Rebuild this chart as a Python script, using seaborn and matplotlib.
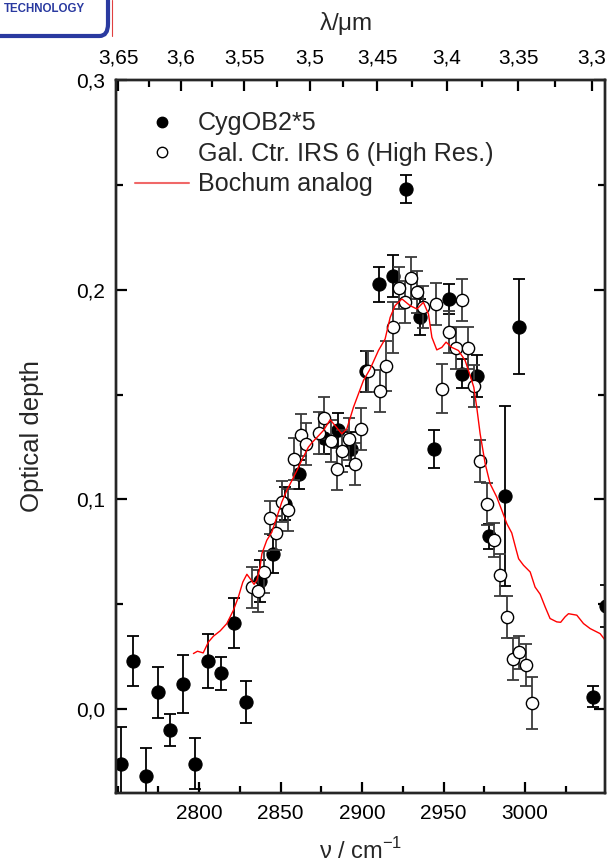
import numpy as np
import pandas as pd
import seaborn as sns
import matplotlib
matplotlib.use("Agg")
import matplotlib.pyplot as plt
from matplotlib.lines import Line2D
from matplotlib.patches import FancyBboxPatch
from matplotlib.ticker import FixedLocator, MultipleLocator, FuncFormatter

# ---------------- data ----------------
cyg_nu = [2752, 2759.7, 2767.3, 2775, 2782.4, 2790.2, 2797.7, 2805.5, 2813.5, 2821.3,
          2829, 2837.2, 2845.2, 2852.8, 2861.2, 2876.7, 2885.5, 2893.3, 2902.2, 2910.4,
          2918.8, 2927, 2935.6, 2943.8, 2953, 2961.3, 2970.2, 2978, 2987.7, 2996.3,
          3041.5, 3049.5]
cyg_tau = [-0.026, 0.023, -0.032, 0.008, -0.010, 0.012, -0.026, 0.023, 0.017, 0.041,
           0.0035, 0.061, 0.074, 0.098, 0.112, 0.1295, 0.133, 0.124, 0.161, 0.2025,
           0.2065, 0.248, 0.187, 0.124, 0.1956, 0.160, 0.1587, 0.0824, 0.1016, 0.1824,
           0.0059, 0.049]
cyg_err = [0.0175, 0.012, 0.0135, 0.012, 0.0078, 0.014, 0.012, 0.013, 0.008, 0.012,
           0.010, 0.010, 0.009, 0.008, 0.007, 0.008, 0.008, 0.008, 0.010, 0.0085,
           0.010, 0.0065, 0.0086, 0.009, 0.0071, 0.007, 0.010, 0.006, 0.043, 0.0225,
           0.005, 0.010]

gc_nu = [2832.3, 2836, 2839.9, 2843.6, 2847, 2850.7, 2854.4, 2858.3, 2862.2, 2865.5,
         2873.8, 2876.9, 2881, 2884.5, 2887.9, 2892, 2895.7, 2899.6, 2903.9, 2911,
         2914.7, 2918.8, 2922.5, 2926.4, 2929.9, 2933.9, 2937.6, 2945.4, 2949.3, 2953.4,
         2957.5, 2961, 2964.8, 2968.7, 2972.4, 2976.5, 2980.6, 2984.7, 2988.8, 2992.5,
         2996.3, 3000.6, 3004.5]
gc_tau = [0.058, 0.0562, 0.0654, 0.0913, 0.084, 0.099, 0.0948, 0.1194, 0.1308, 0.1262,
          0.1317, 0.139, 0.128, 0.1146, 0.123, 0.129, 0.117, 0.1335, 0.161, 0.1518,
          0.1635, 0.182, 0.2008, 0.194, 0.2056, 0.1987, 0.1916, 0.1932, 0.1527, 0.1797,
          0.1722, 0.195, 0.1722, 0.1543, 0.1182, 0.0976, 0.0807, 0.0638, 0.044, 0.0237,
          0.0271, 0.0211, 0.003]
gc_err = [0.010, 0.010, 0.010, 0.008, 0.008, 0.010, 0.010, 0.010, 0.010, 0.010,
          0.010, 0.010, 0.010, 0.010, 0.010, 0.010, 0.010, 0.010, 0.010, 0.010,
          0.012, 0.012, 0.010, 0.010, 0.010, 0.010, 0.010, 0.010, 0.0117, 0.010,
          0.010, 0.010, 0.010, 0.010, 0.010, 0.010, 0.008, 0.010, 0.010, 0.010,
          0.008, 0.010, 0.0125]

boch_nu = [2796.5, 2799, 2802.5, 2805.7, 2808.8, 2812.9, 2817, 2821, 2824.1, 2826.8,
           2829.3, 2831.3, 2833.7, 2835.4, 2837.4, 2838.5, 2841.5, 2844.6, 2847.7, 2850.7,
           2853.8, 2856.9, 2860, 2863.4, 2867, 2869.5, 2872.8, 2876.3, 2880.4, 2883.4,
           2887.5, 2890.6, 2894.7, 2900.8, 2904.9, 2910, 2914.1, 2917.2, 2920.2, 2924.4,
           2929.4, 2933.6, 2937.6, 2940.7, 2942.8, 2945.8, 2948.9, 2951.5, 2955, 2959.1,
           2963.2, 2966.3, 2968.5, 2970.3, 2972.4, 2975.5, 2978.5, 2982.6, 2985.7, 2988.8,
           2991.8, 2994.5, 2996, 2999, 3003.1, 3006.1, 3009.2, 3012.3, 3015.3, 3019.4,
           3021.8, 3024.5, 3026.6, 3031.7, 3035.8, 3039.9, 3046, 3050]
boch_tau = [0.0265, 0.0276, 0.0268, 0.032, 0.0348, 0.0373, 0.0408, 0.0471, 0.0535, 0.0606,
            0.0643, 0.0622, 0.0595, 0.0614, 0.0678, 0.0741, 0.0805, 0.0844, 0.0916, 0.0987,
            0.1043, 0.109, 0.1138, 0.1194, 0.1249, 0.1273, 0.13, 0.1329, 0.138, 0.1352,
            0.1313, 0.1336, 0.144, 0.1567, 0.1622, 0.171, 0.1765, 0.1868, 0.1924, 0.1956,
            0.1924, 0.1908, 0.194, 0.1884, 0.1773, 0.1713, 0.1725, 0.175, 0.1725, 0.171,
            0.1662, 0.159, 0.1535, 0.144, 0.1313, 0.117, 0.1075, 0.1011, 0.0948, 0.0884,
            0.084, 0.076, 0.0717, 0.0686, 0.0654, 0.0582, 0.0548, 0.0487, 0.0432, 0.0416,
            0.0414, 0.044, 0.0455, 0.0448, 0.0408, 0.0384, 0.036, 0.032]

bottom_ticks = [2800, 2850, 2900, 2950, 3000]
y_ticks = [0.0, 0.1, 0.2, 0.3]
top_lambda = [3.65, 3.6, 3.55, 3.5, 3.45, 3.4, 3.35, 3.3]

# ---------------- style ----------------
sns.set_theme(style="ticks")
plt.rcParams['font.family'] = ['Liberation Sans', 'DejaVu Sans']
plt.rcParams['mathtext.fontset'] = 'custom'
plt.rcParams['mathtext.rm'] = 'Liberation Sans'

W, H = 609, 867
fig = plt.figure(figsize=(W / 100, H / 100), dpi=100)
L, R, T, B = 116, 605, 80, 793
ax = fig.add_axes([L / W, 1 - B / H, (R - L) / W, (B - T) / H])

df_c = pd.DataFrame({"nu": cyg_nu, "tau": cyg_tau, "err": cyg_err})
df_g = pd.DataFrame({"nu": gc_nu, "tau": gc_tau, "err": gc_err})
df_b = pd.DataFrame({"nu": boch_nu, "tau": boch_tau})

ax.errorbar(df_c.nu, df_c.tau, yerr=df_c.err, fmt='none', ecolor='black',
            elinewidth=1.3, capsize=4.3, capthick=1.3, zorder=2)
sns.scatterplot(data=df_c, x="nu", y="tau", ax=ax, color='black', edgecolor='black',
                s=90, marker='o', linewidth=0.8, zorder=3, legend=False)
ax.errorbar(df_g.nu, df_g.tau, yerr=df_g.err, fmt='none', ecolor='#3a3a3a',
            elinewidth=1.3, capsize=4.3, capthick=1.3, zorder=4)
sns.scatterplot(data=df_g, x="nu", y="tau", ax=ax, color='white', edgecolor='black',
                s=78, marker='o', linewidth=1.0, zorder=5, legend=False)
sns.lineplot(data=df_b, x="nu", y="tau", ax=ax, color='red', linewidth=1.0,
             sort=False, estimator=None, zorder=6, legend=False)

ax.set_xlim(2749, 3049)
ax.set_ylim(-0.04, 0.3)
ax.set_xticks(bottom_ticks)
ax.xaxis.set_minor_locator(MultipleLocator(25))
ax.set_yticks(y_ticks)
ax.yaxis.set_minor_locator(MultipleLocator(0.05))
ax.yaxis.set_major_formatter(FuncFormatter(lambda v, p: f"{v:.1f}".replace('.', ',')))

for s in ax.spines.values():
    s.set_linewidth(1.7)
    s.set_color('black')
ax.tick_params(which='both', direction='in', top=False, right=True, colors='black',
               labelsize=15, width=1.6)
ax.tick_params(which='major', length=8, pad=8)
ax.tick_params(which='minor', length=5)

ax.set_xlabel(r"$\mathrm{\nu}$ / cm$^{-1}$", fontsize=17)
ax.set_ylabel("Optical depth", fontsize=18.5)
ax.xaxis.set_label_coords(0.5, -0.063)
ax.yaxis.set_label_coords(-0.148, 0.5)

# top wavelength axis
ax2 = ax.twiny()
ax2.set_xlim(2738.2, 3038.2)
ax2.xaxis.set_major_locator(FixedLocator([1e4 / l for l in top_lambda]))
ax2.xaxis.set_minor_locator(FixedLocator([1e4 / (l - 0.025) for l in top_lambda[:-1]]))
ax2.set_xticklabels([f"{l:g}".replace('.', ',') for l in top_lambda])
ax2.tick_params(which='both', direction='in', colors='black', labelsize=15, width=1.6)
ax2.tick_params(which='major', length=8, pad=9)
ax2.tick_params(which='minor', length=5)
for s in ax2.spines.values():
    s.set_linewidth(1.7)
ax2.set_xlabel(r"$\mathrm{\lambda}$/$\mathrm{\mu}$m", fontsize=17.5)
ax2.xaxis.set_label_coords(0.47, 1.07)

handles = [
    Line2D([], [], marker='o', linestyle='none', markerfacecolor='black',
           markeredgecolor='black', markersize=7.5),
    Line2D([], [], marker='o', linestyle='none', markerfacecolor='white',
           markeredgecolor='black', markersize=7.5),
    Line2D([], [], color='#f06868', linewidth=1.5),
]
labels = ["CygOB2*5", "Gal. Ctr. IRS 6 (High Res.)", "Bochum analog"]
ax.legend(handles, labels, loc='upper left', bbox_to_anchor=(0.039, 0.956),
          frameon=False, fontsize=18.1, handlelength=2.15, handletextpad=0.35,
          labelspacing=0.26, borderpad=0, borderaxespad=0)

# logo fragment in the upper-left corner
fig.patches.append(FancyBboxPatch((-0.05, 1 - 36 / H), (108 / W) + 0.05, 0.1,
                                  boxstyle="round,pad=0,rounding_size=0.014",
                                  transform=fig.transFigure, facecolor='white',
                                  edgecolor='#2a3aa0', linewidth=3, zorder=0))
fig.text(4 / W, 1 - 9 / H, "TECHNOLOGY", fontsize=8.3, fontweight='bold',
         color='#2a3aa0', va='center', ha='left')
fig.add_artist(Line2D([112 / W, 112 / W], [1, 1 - 36 / H], transform=fig.transFigure,
                      color='#e04040', linewidth=0.8))

fig.savefig("out.png", dpi=100)
